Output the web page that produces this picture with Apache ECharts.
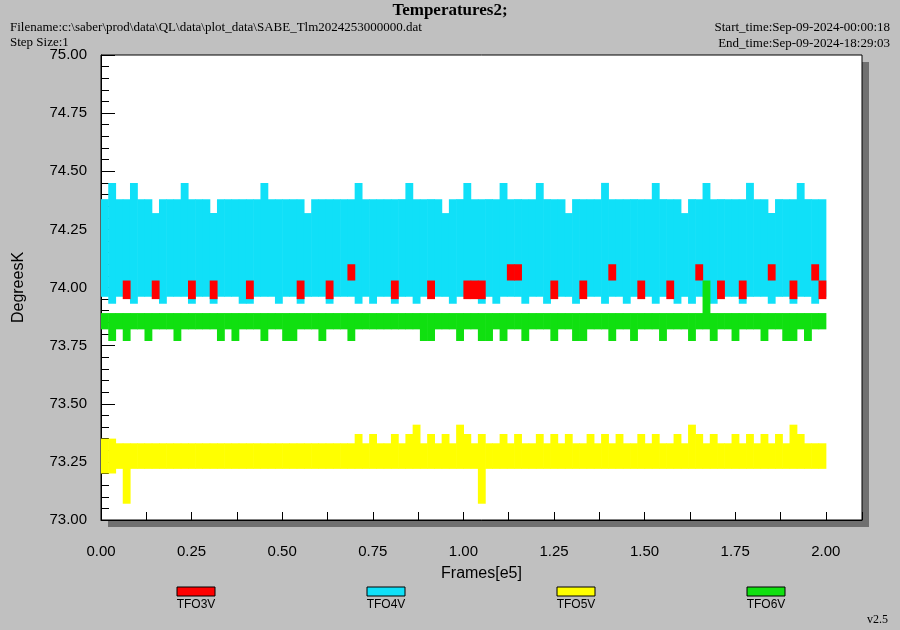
<!DOCTYPE html>
<html><head><meta charset="utf-8">
<script src="https://cdn.jsdelivr.net/npm/echarts@6/dist/echarts.min.js"></script>
<style>body{margin:0;background:#c0c0c0}#c{width:900px;height:630px}</style>
</head><body><div id="c"></div>
<script>
// Each series is read as a per-bin envelope (bin width 0.02 e5 frames): highest and lowest value in each bin.
const seriesNames=['TFO3V','TFO4V','TFO5V','TFO6V'];
const colors=['#ff0000','#10e0f8','#ffff00','#10e010'];
const binWidth=0.02;
const tfo4vHi=[74.38,74.45,74.38,74.38,74.45,74.38,74.38,74.32,74.38,74.38,
74.38,74.45,74.38,74.38,74.38,74.32,74.38,74.38,74.38,74.38,
74.38,74.38,74.45,74.38,74.38,74.38,74.38,74.38,74.32,74.38,
74.38,74.38,74.38,74.38,74.38,74.45,74.38,74.38,74.38,74.38,
74.38,74.38,74.45,74.38,74.38,74.38,74.38,74.32,74.38,74.38,
74.45,74.38,74.38,74.38,74.38,74.45,74.38,74.38,74.38,74.38,
74.45,74.38,74.38,74.38,74.32,74.38,74.38,74.38,74.38,74.45,
74.38,74.38,74.38,74.38,74.38,74.38,74.45,74.38,74.38,74.38,
74.32,74.38,74.38,74.45,74.38,74.38,74.38,74.38,74.38,74.45,
74.38,74.38,74.32,74.38,74.38,74.38,74.45,74.38,74.38,74.38];
const tfo4vLo=[73.96,73.93,73.96,73.96,73.93,73.96,73.96,73.96,73.93,73.96,
73.96,73.96,73.93,73.96,73.96,73.93,73.96,73.96,73.96,73.93,
73.93,73.96,73.96,73.96,73.93,73.96,73.96,73.93,73.96,73.96,
73.96,73.93,73.96,73.96,73.96,73.93,73.96,73.93,73.96,73.96,
73.93,73.96,73.96,73.93,73.96,73.96,73.96,73.96,73.93,73.96,
73.96,73.96,73.93,73.96,73.93,73.96,73.96,73.96,73.93,73.96,
73.96,73.93,73.96,73.96,73.96,73.93,73.96,73.96,73.96,73.93,
73.96,73.96,73.93,73.96,73.96,73.96,73.93,73.96,73.96,73.93,
73.96,73.93,73.96,73.96,73.93,73.96,73.96,73.96,73.93,73.96,
73.96,73.96,73.93,73.96,73.96,73.93,73.96,73.96,73.93,73.96];
const tfo3vHi=[73.97,73.97,73.97,74.03,73.97,73.97,73.97,74.03,73.97,73.97,
73.97,73.97,74.03,73.97,73.97,74.03,73.97,73.97,73.97,73.97,
74.03,73.97,73.97,73.97,73.97,73.97,73.97,74.03,73.97,73.97,
73.97,74.03,73.97,73.97,74.10,73.97,73.97,73.97,73.97,73.97,
74.03,73.97,73.97,73.97,73.97,74.03,73.97,73.97,73.97,73.97,
74.03,74.03,74.03,73.97,73.97,73.97,74.10,74.10,73.97,73.97,
73.97,73.97,74.03,73.97,73.97,73.97,74.03,73.97,73.97,73.97,
74.10,73.97,73.97,73.97,74.03,73.97,73.97,73.97,74.03,73.97,
73.97,73.97,74.10,73.97,73.97,74.03,73.97,73.97,74.03,73.97,
73.97,73.97,74.10,73.97,73.97,74.03,73.97,73.97,74.10,74.03];
const tfo3vLo=[73.97,73.97,73.97,73.95,73.97,73.97,73.97,73.95,73.97,73.97,
73.97,73.97,73.95,73.97,73.97,73.95,73.97,73.97,73.97,73.97,
73.95,73.97,73.97,73.97,73.97,73.97,73.97,73.95,73.97,73.97,
73.97,73.95,73.97,73.97,74.03,73.97,73.97,73.97,73.97,73.97,
73.95,73.97,73.97,73.97,73.97,73.95,73.97,73.97,73.97,73.97,
73.95,73.95,73.95,73.97,73.97,73.97,74.03,74.03,73.97,73.97,
73.97,73.97,73.95,73.97,73.97,73.97,73.95,73.97,73.97,73.97,
74.03,73.97,73.97,73.97,73.95,73.97,73.97,73.97,73.95,73.97,
73.97,73.97,74.03,73.97,73.97,73.95,73.97,73.97,73.95,73.97,
73.97,73.97,74.03,73.97,73.97,73.95,73.97,73.97,74.03,73.95];
const tfo6vHi=[73.89,73.89,73.89,73.89,73.89,73.89,73.89,73.89,73.89,73.89,
73.89,73.89,73.89,73.89,73.89,73.89,73.89,73.89,73.89,73.89,
73.89,73.89,73.89,73.89,73.89,73.89,73.89,73.89,73.89,73.89,
73.89,73.89,73.89,73.89,73.89,73.89,73.89,73.89,73.89,73.89,
73.89,73.89,73.89,73.89,73.89,73.89,73.89,73.89,73.89,73.89,
73.89,73.89,73.89,73.89,73.89,73.89,73.89,73.89,73.89,73.89,
73.89,73.89,73.89,73.89,73.89,73.89,73.89,73.89,73.89,73.89,
73.89,73.89,73.89,73.89,73.89,73.89,73.89,73.89,73.89,73.89,
73.89,73.89,73.89,74.03,73.89,73.89,73.89,73.89,73.89,73.89,
73.89,73.89,73.89,73.89,73.89,73.89,73.89,73.89,73.89,73.89];
const tfo6vLo=[73.82,73.77,73.82,73.77,73.82,73.82,73.77,73.82,73.82,73.82,
73.77,73.82,73.82,73.82,73.82,73.82,73.77,73.82,73.77,73.82,
73.82,73.82,73.77,73.82,73.82,73.77,73.77,73.82,73.82,73.82,
73.77,73.82,73.82,73.82,73.77,73.82,73.82,73.82,73.82,73.82,
73.82,73.82,73.82,73.82,73.77,73.77,73.82,73.82,73.82,73.77,
73.82,73.82,73.77,73.77,73.82,73.77,73.82,73.82,73.77,73.82,
73.82,73.82,73.77,73.82,73.82,73.77,73.77,73.82,73.82,73.82,
73.77,73.82,73.82,73.77,73.82,73.82,73.82,73.77,73.82,73.82,
73.82,73.77,73.82,73.82,73.77,73.82,73.82,73.77,73.82,73.82,
73.82,73.77,73.82,73.82,73.77,73.77,73.82,73.77,73.82,73.82];
const tfo5vHi=[73.35,73.35,73.33,73.33,73.33,73.33,73.33,73.33,73.33,73.33,
73.33,73.33,73.33,73.33,73.33,73.33,73.33,73.33,73.33,73.33,
73.33,73.33,73.33,73.33,73.33,73.33,73.33,73.33,73.33,73.33,
73.33,73.33,73.33,73.33,73.33,73.37,73.33,73.37,73.33,73.33,
73.37,73.33,73.37,73.41,73.33,73.37,73.33,73.37,73.33,73.41,
73.37,73.33,73.37,73.33,73.33,73.37,73.33,73.37,73.33,73.33,
73.37,73.33,73.37,73.33,73.37,73.33,73.33,73.37,73.33,73.37,
73.33,73.37,73.33,73.33,73.37,73.33,73.37,73.33,73.33,73.37,
73.33,73.41,73.37,73.33,73.37,73.33,73.33,73.37,73.33,73.37,
73.33,73.37,73.33,73.37,73.33,73.41,73.37,73.33,73.33,73.33];
const tfo5vLo=[73.20,73.20,73.22,73.07,73.22,73.22,73.22,73.22,73.22,73.22,
73.22,73.22,73.22,73.22,73.22,73.22,73.22,73.22,73.22,73.22,
73.22,73.22,73.22,73.22,73.22,73.22,73.22,73.22,73.22,73.22,
73.22,73.22,73.22,73.22,73.22,73.22,73.22,73.22,73.22,73.22,
73.22,73.22,73.22,73.22,73.22,73.22,73.22,73.22,73.22,73.22,
73.22,73.22,73.07,73.22,73.22,73.22,73.22,73.22,73.22,73.22,
73.22,73.22,73.22,73.22,73.22,73.22,73.22,73.22,73.22,73.22,
73.22,73.22,73.22,73.22,73.22,73.22,73.22,73.22,73.22,73.22,
73.22,73.22,73.22,73.22,73.22,73.22,73.22,73.22,73.22,73.22,
73.22,73.22,73.22,73.22,73.22,73.22,73.22,73.22,73.22,73.22];
const yTicks=[73.00,73.25,73.50,73.75,74.00,74.25,74.50,74.75,75.00];
const xTicks=[0,0.25,0.5,0.75,1,1.25,1.5,1.75,2];
const hiArrays=[tfo3vHi,tfo4vHi,tfo5vHi,tfo6vHi];
const loArrays=[tfo3vLo,tfo4vLo,tfo5vLo,tfo6vLo];
const drawOrder=[1,0,3,2];
const ch=echarts.init(document.getElementById('c'));
const legendX=[196,386,576,766];
const graphic=[
 {type:'rect',z:-10,silent:true,shape:{x:108,y:62,width:761,height:465},style:{fill:'#707070'}},
 {type:'rect',z:-9,silent:true,shape:{x:101,y:55,width:761,height:465},style:{fill:'#fff'}},
 {type:'text',left:'center',top:2,style:{text:'Temperatures2;',font:'bold 17px "Liberation Serif"',fill:'#000'}},
 {type:'text',left:10,top:21,style:{text:'Filename:c:\\saber\\prod\\data\\QL\\data\\plot_data\\SABE_Tlm2024253000000.dat',font:'13px "Liberation Serif"',fill:'#000'}},
 {type:'text',left:10,top:36,style:{text:'Step Size:1',font:'13px "Liberation Serif"',fill:'#000'}},
 {type:'text',right:10,top:21,style:{text:'Start_time:Sep-09-2024-00:00:18',font:'13px "Liberation Serif"',fill:'#000',align:'right'}},
 {type:'text',right:10,top:37,style:{text:'End_time:Sep-09-2024-18:29:03',font:'13px "Liberation Serif"',fill:'#000',align:'right'}},
 {type:'text',right:12,top:614,style:{text:'v2.5',font:'12px "Liberation Serif"',fill:'#000'}}
];
seriesNames.forEach((n,i)=>{
 graphic.push({type:'rect',shape:{x:legendX[i]-19,y:587,width:38,height:9},style:{fill:colors[i],stroke:'#000',lineWidth:1}});
 graphic.push({type:'text',x:legendX[i],y:599,style:{text:n,font:'12px Arial',fill:'#000',align:'center'}});
});
const series=drawOrder.map(i=>({
 name:seriesNames[i],type:'custom',
 data:hiArrays[i].map((v,k)=>[k*binWidth,loArrays[i][k],v]),
 encode:{x:0,y:[1,2]},
 renderItem:(params,api)=>{
  if(api.value(2)-api.value(1)<1e-6) return null;
  const p0=api.coord([api.value(0),api.value(2)]);
  const p1=api.coord([api.value(0)+binWidth,api.value(1)]);
  return {type:'rect',shape:{x:p0[0],y:p0[1],width:p1[0]-p0[0]+0.6,height:p1[1]-p0[1]},
   style:{fill:colors[i]}};
 }
}));
ch.setOption({
 backgroundColor:'#c0c0c0',animation:false,
 grid:{left:101,right:38,top:55,bottom:110,show:true,backgroundColor:'transparent',borderColor:'#000',borderWidth:1},
 xAxis:{type:'value',min:0,max:2.1,interval:0.25,name:'Frames[e5]',nameLocation:'middle',nameGap:46,
  nameTextStyle:{fontSize:16,fontFamily:'Arial',color:'#000'},
  axisLine:{lineStyle:{color:'#000'}},axisTick:{inside:true,length:8,lineStyle:{color:'#000'}},
  minorTick:{show:true,splitNumber:2,length:8,lineStyle:{color:'#000'}},
  splitLine:{show:false},axisLabel:{fontSize:15,fontFamily:'Arial',color:'#000',margin:24,
   formatter:v=>xTicks.some(t=>Math.abs(t-v)<1e-6)?v.toFixed(2):''}},
 yAxis:{type:'value',min:73,max:75,interval:0.25,name:'DegreesK',nameLocation:'middle',nameGap:74,
  nameTextStyle:{fontSize:16,fontFamily:'Arial',color:'#000'},
  axisLine:{show:true,lineStyle:{color:'#000'}},axisTick:{inside:true,length:14,lineStyle:{color:'#000'}},
  minorTick:{show:true,splitNumber:5,length:8,lineStyle:{color:'#000'}},
  splitLine:{show:false},axisLabel:{fontSize:15,fontFamily:'Arial',color:'#000',margin:14,
   formatter:v=>yTicks.some(t=>Math.abs(t-v)<1e-6)?v.toFixed(2):''}},
 graphic:graphic,
 series:series
});
</script></body></html>
